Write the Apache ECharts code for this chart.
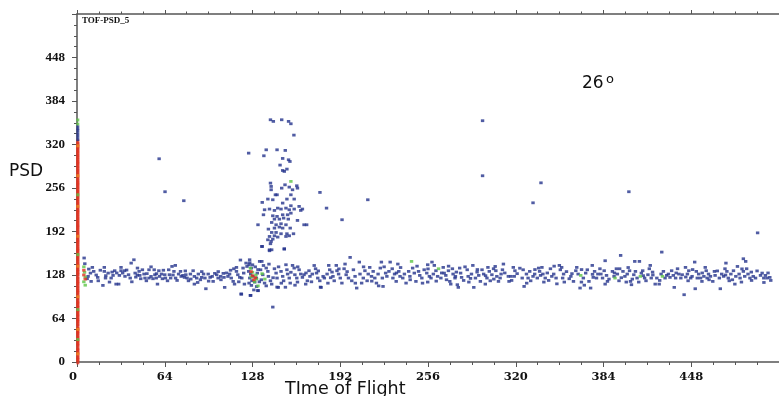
<!DOCTYPE html>
<html>
<head>
<meta charset="utf-8">
<script src="https://cdn.jsdelivr.net/npm/echarts@6/dist/echarts.min.js"></script>
<style>
html,body{margin:0;padding:0;background:#fff;}
#chart{width:779px;height:396px;}
</style>
</head>
<body>
<div id="chart"></div>
<script>
// Axis ticks (channel units)
const tofTicks = [0, 64, 128, 192, 256, 320, 384, 448];
const psdTicks = [0, 64, 128, 192, 256, 320, 384, 448];

// Main band of events around PSD ~128 [TOF, PSD]
const bandPts = [
[5.2,153],[5.7,144.6],[8.6,136.7],[11.2,139.2],[9.8,130.8],[12.2,133.3],[8.1,126],[7.4,122.5],[10.3,118.6],[15.1,124.5],
[15.5,119.5],[19.9,139.2],[19.9,133.3],[20.8,123.5],[18.9,112.7],[22.7,130.8],[24.9,123.5],[23.7,117.6],[25.6,132.3],[27.5,134.3],
[26.3,127.4],[28.5,114.6],[30.4,114.6],[32.1,139.2],[32.1,134.3],[30.9,127.4],[33.3,130.8],[34.7,134.3],[36.2,135.3],[37.6,128.4],
[38.8,123.5],[39.5,145.5],[41.5,150.4],[42.4,130.8],[42.9,124.9],[44.1,138.2],[45.3,133.3],[45.8,127.4],[46.5,122.5],[47.7,135.7],
[48.9,129.4],[49.6,123.5],[50.6,119.5],[52.5,135.7],[52.5,123.5],[54,125.9],[55.4,122.5],[56.3,135.7],[56.8,128.4],[57.8,123.5],
[58.7,114.6],[59.7,134.3],[60.2,125.9],[61.6,129.4],[62.3,122.5],[64,128.4],[64.5,123.5],[66,119.5],[66.9,135.7],[67.4,128.4],
[68.3,123.5],[69.3,140.6],[70.7,133.3],[71.7,142.1],[71.9,123.5],[74.1,129.4],[75.5,133.3],[76,125.9],[77.2,127.4],[78.4,124.5],
[79.4,128.4],[80.3,123.5],[81.3,119.5],[82.7,129.4],[84.7,134.3],[85.6,125.9],[85.6,114.6],[87.3,123.5],[88.5,129.4],[90,121],
[90.9,124.5],[92.3,129.4],[93.3,123.5],[94,107.8],[95.7,129.4],[97.1,124.5],[98.6,125.9],[99.3,118.6],[100.5,130.4],[101.9,128.4],
[102.9,123.5],[104.8,125.9],[106.7,130.4],[107.2,124.5],[107.7,109.8],[110.1,125.9],[111.3,129.4],[112.5,123.5],[113.9,118.6],[114.9,114.6],
[114.4,137.2],[116.3,139.2],[116.3,133.3],[117.3,128.4],[118.7,124.5],[119.2,150],[119.7,100],[120.2,123.5],[121.1,138.2],[121.6,130.8],
[122.1,114.6],[123.3,145.5],[124,140.6],
[14,128],[17,135],[21,127],[29,131],[35,126],[40,118],[44,128],[51,130],[54,140],[58,130],[63,135],[70,128],[73,120],[79,134],
[83,122],[88,117],[91,133],[96,119],[103,133],[105,121],[109,131],[112,135],[118,118],
[125.9,150.4],[125.5,143.1],[127.1,138.2],[125.2,133.3],[126.7,129.4],[128.4,126],[126,123.5],[127.6,119.5],[125.5,116.1],[127.2,112.7],
[129.6,117.6],[130.8,123.5],[131.5,130.8],[133.2,148],[134.8,148],[133.9,135.7],[135.5,128.4],[134.4,121],[136.8,116.1],[132,104.9],
[138,138.2],[139.2,133.3],[139.6,126],[141.1,119.5],[142,114.6],[144,137.2],[145.2,130.8],[145.9,123.5],[146.8,109.8],[148.8,133.3],
[150,126],[150.7,119.5],[152.4,143.1],[153.1,135.7],[153.6,129.4],[154.8,123.5],[155.5,116.1],[157.2,142.1],[158.4,138.2],[158.9,128.4],
[160.3,123.5],[160.8,117.6],[162,135.7],[163.2,129.4],[164.4,124.5],[165.6,128.4],[166.8,114.6],[168,119.5],[169.2,134.3],[169.9,126],
[171.6,129.4],[174,137.2],[174.7,130.8],[175.6,123.5],[177.1,119.5],[178,109.8],[179.5,126],[180.4,123.5],[182.4,129.4],[183.6,142.1],
[184.3,135.7],[186,132.3],[186.7,126],[187.6,119.5],[189.1,142.1],[189.6,134.3],[190.8,129.4],[192,123.5],[193.2,116.1],[194.8,137.2],
[195.5,144.1],[196.3,128.4],[198,123.5],[199.2,153.9],[200.4,119.5],[201.6,135.7],[202.8,126],[204,108.8],[205.9,147],[206.4,129.4],
[207.6,116.1],[208.8,123.5],[210,134.3],[211.6,119.5],[212.4,129.4],[213.5,139.2],[214.8,126],[216,133.3],[217.2,123.5],[218.4,116.1],
[219.6,129.4],[221.2,138.2],[222,147],[222.7,123.5],[223.2,111.2],[225.1,130.8],[226,126],[227.5,133.3],[228.4,147],[229.9,137.2],
[230.4,123.5],[231.6,129.4],[232.8,118.6],[234,144.1],[234.7,133.3],[235.6,126],[237.6,123.5],[238.8,129.4],[240,116.1],[241.9,133.3],
[242.8,126],[244.8,138.2],[246,130.8],[247.2,118.6],[249.1,133.3],[250,127.4],[251.5,123.5],[253.2,135.7],
[130,140],[132,136],[128,143],[126,146],[131,111],[133,118],[129,106],[136,142],[138,112],[140,144],[143,124],[147,140],[149,116],
[152,110],[156,132],[159,113],[161,140],[167,131],[171,118],[173,142],[176,134],[183,116],[185,124],[191,137],[197,133],[203,116],
[209,140],[215,119],[220,112],[224,140],[233,131],[236,139],[243,121],[248,141],[252,116],
[258.9,147],[260.6,142.1],[255.8,143.1],[255.1,130.8],[257,126],[258.2,123.5],[255.8,117.6],[259.9,129.4],[261.8,134.3],[263,126],
[265.4,123.5],[267.1,139.2],[267.8,130.8],[269,127.4],[269.5,121],[270.9,134.3],[271.9,118.6],[272.6,114.6],[273.8,137.2],[274.3,129.4],
[275.7,123.5],[276.7,132.3],[277.4,113.7],[278.1,109.8],[279.1,138.2],[279.8,130.8],[280.5,124.5],[284.6,135.7],[285.3,126],[285.8,117.6],
[287.7,129.4],[288.7,142.1],[289.4,109.8],[290.6,123.5],[291.8,132.3],[293,127.4],[294.2,118.6],[295.4,135.7],[296.6,129.4],[297.8,114.6],
[299,123.5],[299.7,139.2],[300.7,133.3],[301.4,119.5],[302.6,128.4],[303.8,137.2],[305,140.6],[305.5,134.3],[306.2,126],[307.4,118.6],
[308.6,123.5],[309.3,129.4],[311,144.1],[310.3,135.7],[314.6,126],[315.1,118.6],[316.5,126],[318.2,139.2],[318.9,126],[319.4,134.3],
[324.7,123.5],[325.4,135.7],[326.1,111.2],[327.8,129.4],[329,123.5],[330.2,133.3],[330.9,119.5],[332.6,126],[333.8,129.4],[335.7,123.5],
[336.7,138.2],[337.4,133.3],[338.1,127.4],[339.1,139.2],[339.8,129.4],[340.5,117.6],[341.5,123.5],[345.3,137.2],[346.3,126],[347.7,129.4],
[349.4,123.5],[351.8,142.1],[352.5,135.7],[353.5,139.2],[354.2,123.5],[354.9,129.4],[355.4,117.6],[359,122.5],[360.2,126],[362.1,118.6],
[363.8,134.3],[364.5,139.2],[365.5,129.4],[367.9,117.6],[366.9,108.8],[369.3,123.5],[371,130.8],[372.2,135.7],[373.4,118.6],[374.6,108.8],
[375.8,142.1],[376.5,124.5],[377.5,133.3],[378.9,123.5],[379.9,129.4],
[256,137],[262,119],[266,131],[271,141],[276,126],[282,120],[283,140],[287,123],[292,136],[298,127],[304,122],[312,131],[317,120],
[321,130],[323,138],[328,116],[334,136],[343,131],[344,120],[348,141],[350,115],[357,133],[361,130],[368,136],[370,113],[376,129],
[385.2,149],[406.8,148],[410.2,148],[450.5,147],[486,151.9],[487.7,148],[473.3,145.5],
[381.4,137.2],[382.1,129.4],[383.3,123.5],[384.5,134.3],[386.2,127.4],[386.9,118.6],[385.2,114.6],[390.5,133.3],[391.7,126],[393.4,137.2],
[394.1,129.4],[395.3,119.5],[395.8,137.2],[398.2,133.3],[399.6,126],[400.6,117.6],[401.3,129.4],[403,134.3],[403.7,118.6],[404.4,113.7],
[406.1,128.4],[407.3,133.3],[408.5,123.5],[409.7,117.6],[411.6,130.8],[412.6,134.3],[414,123.5],[415,119.5],[416.4,128.4],[417.4,137.2],
[418.1,142.1],[418.8,123.5],[419.8,132.3],[421.7,114.6],[422.9,123.5],[424.6,114.6],[426,129.4],[427.7,133.3],[428.9,123.5],[430.1,127.4],
[431.3,129.4],[432.5,124.5],[433.7,134.3],[434.9,127.4],[435.6,109.8],[436.6,123.5],[438,137.2],[439,129.4],[440.4,123.5],[441.4,128.4],
[442.8,99],[443.8,139.2],[445.2,129.4],[445.7,119.5],[446.2,134.3],[447.6,123.5],[448.6,126],[450.9,107.8],[451.7,133.3],[452.4,123.5],
[453.4,129.4],[454.8,123.5],[455.8,118.6],[457.2,126],[458.2,139.2],[458.9,134.3],[459.6,123.5],[460.6,129.4],[462,126],[463.7,118.6],
[464.9,133.3],[465.4,127.4],[468.5,123.5],[469.2,107.8],[470.2,129.4],[471.6,126],[472.6,137.2],[474,133.3],[475,123.5],[475.7,119.5],
[476.9,129.4],[478.8,134.3],[479.8,114.6],[480.5,126],[481.7,140.6],[482.9,129.4],[483.6,123.5],[484.6,117.6],[486,133.3],[487,126],
[488.4,137.2],[489.4,129.4],[490.8,123.5],[491.8,132.3],[493.2,126],[494.9,123.5],[498.5,127.4],[499.7,130.8],[500.9,123.5],[502.1,127.4],
[503.3,123.5],[505.3,124.5],
[388,122],[392,131],[397,124],[402,139],[405,122],[413,127],[420,128],[425,120],[437,131],[444,125],[449,136],[456,131],[461,121],
[467,134],[473,128],[478,121],[485,137],[492,120],[496,134],[501,117],[504,131],[506,120]
];

// Vertical plume of events rising above the band near TOF ~145
const spikePts = [
[141.1,356.4],[143.2,354],[149.3,356.4],[154.3,354],[156,350.5],[158.2,333.8],[125.2,307.3],[138,312.2],[136.3,303.4],[145.9,312.2],
[151.9,311.3],[150,299.5],[154.3,297.5],[155.3,295],[148.1,289.7],[153.1,283.8],[150,281.8],[151.2,280.4],[141.1,263.2],[151.7,260.7],
[141.6,258.3],[154.8,257.3],[160.3,259.3],[157.2,253.4],[149.3,255.8],[160.8,255.8],[141.6,253.4],[144.7,246],[145.9,246],[156,246],
[153.1,239.7],[158.4,239.7],[135.1,234.8],[139.2,239.7],[142.8,238.7],[150,233.8],[156,229.9],[162,228.9],[136.8,224],[140.4,225],
[144,223],[146.4,226.4],[148.8,225],[152.4,226.4],[154.8,224],[158.4,225],[163.2,223],[164.4,225],[136,216.6],[142.8,215.1],
[145.9,214.2],[150,216.6],[153.6,216.6],[156,219],[144,210.2],[147.6,210.2],[150.7,211.7],[154.1,210.2],[160.8,208.3],[132,201.9],
[142,205.3],[145.2,201.9],[148.8,203.4],[152.4,201.9],[165.6,201.9],[167.5,201.9],[139.6,195.5],[144,197],[147.6,198.5],[150,197],
[155.5,197],[142,190.6],[145.2,190.6],[148.8,188.7],[153.1,188.7],[157.9,188.7],[140.4,184.7],[144,185.7],[146.4,183.8],[152.4,184.7],
[154.8,185.7],[139.2,179.8],[142.8,180.8],[135.1,170],[141.1,174],[141.6,177.4],[140.4,165.1],[151.2,166.1],[134.8,170],[140.4,163.7],
[142,165.1],[151.2,166.6]
];

// Isolated events away from the band
const strayPts = [
[59.9,299],[64.2,250.5],[77.9,237.3],[295.8,355],[295.8,274],[338.4,263.6],[332.6,234.2],[212.1,238.7],[193.3,209.3],[182,226.4],
[177.2,249.5],[402.5,250.5],[496.4,190],[426.5,161.7],[396.5,156.8],[119.9,99.9],[126.4,98],[142.8,80.8],[132,105.3],[145.9,110.2],
[177.6,110.2],[126.7,98]
];

// Higher-count cells (green / red)
const greenPts = [
[5,140],[5.5,132],[6,125],[5,118],[6,113],[127,125],[128,132],[129.5,118],[130.5,128],[131,122],[126.5,138],[135,130],[137,122],
[156,265.7],[244,148],[263.7,137.2],[367.4,127.4],[392.4,123.5],[410.9,126],[427,126],[132,112]
];
const redPts = [
[5,128],[6,122],[5,135],[128,127],[129,121],[127,133],[130,124]
];

// Events stacked at TOF 0 (PSD values)
const edgeRedPsd = [1,5,9,14,17,22,27,30,35,39,44,47,52,57,61,65,70,73,78,83,86,91,95,100,104,108,113,117,121,126,131,134,139,143,147,
152,156,161,165,169,174,178,182,187,191,196,200,204,209,213,218,222,226,231,235,240,244,249,253,258,262,266,271,275,280,284,289,293,
297,302,306,311,315,319,323];
const edgeOrangePsd = [12,48,96,141,185,229,274,318];
const edgeGreenPsd = [33,77,158,246,356,350];
const edgeBluePsd = [328,334,340,345];

const BLUE = '#24338c';
const GREEN = '#5cc546';
const RED = '#e2321f';
const ORANGE = '#ef8a1e';

function scatter(data, color, size) {
  return {
    type: 'scatter',
    data: data,
    symbol: 'rect',
    symbolSize: size || [3.4, 2.8],
    itemStyle: { color: color },
    silent: true,
    animation: false
  };
}
const atZero = arr => arr.map(v => [0.6, v]);

const axisLineStyle = { color: '#555', width: 1.5 };
const tickStyle = { color: '#555', width: 1 };

const chart = echarts.init(document.getElementById('chart'), null, { renderer: 'canvas' });
chart.setOption({
  backgroundColor: '#fff',
  animation: false,
  grid: { left: 77, top: 14, right: -7, bottom: 34, containLabel: false },
  xAxis: [
    {
      type: 'value', min: 0, max: 512, interval: 64, position: 'bottom',
      axisLine: { show: true, onZero: false, lineStyle: axisLineStyle },
      axisTick: { show: true, inside: false, length: 5, lineStyle: tickStyle },
      minorTick: { show: true, splitNumber: 4, length: 3, lineStyle: tickStyle },
      splitLine: { show: false },
      axisLabel: {
        margin: 9, color: '#111', fontFamily: 'DejaVu Serif', fontWeight: 'bold', fontSize: 11.5,
        showMaxLabel: false, alignMinLabel: 'right',
        formatter: v => tofTicks.includes(v) ? String(v) : ''
      }
    },
    {
      type: 'value', min: 0, max: 512, interval: 64, position: 'top',
      axisLine: { show: true, onZero: false, lineStyle: axisLineStyle },
      axisTick: { show: true, inside: false, length: 4, lineStyle: tickStyle },
      minorTick: { show: true, splitNumber: 4, length: 2.5, lineStyle: tickStyle },
      splitLine: { show: false },
      axisLabel: { show: false }
    }
  ],
  yAxis: [
    {
      type: 'value', min: 0, max: 512, interval: 64, position: 'left',
      axisLine: { show: true, onZero: false, lineStyle: axisLineStyle },
      axisTick: { show: true, inside: false, length: 5, lineStyle: tickStyle },
      minorTick: { show: true, splitNumber: 4, length: 3, lineStyle: tickStyle },
      splitLine: { show: false },
      axisLabel: {
        margin: 12, color: '#111', fontFamily: 'Liberation Serif', fontWeight: 'bold', fontSize: 13,
        showMaxLabel: false,
        formatter: v => psdTicks.includes(v) ? String(v) : ''
      }
    }
  ],
  series: [
    scatter(atZero(edgeRedPsd), RED, [3, 6]),
    scatter(atZero(edgeOrangePsd), ORANGE, [3, 3]),
    scatter(atZero(edgeGreenPsd), GREEN, [3, 3]),
    scatter(atZero(edgeBluePsd), BLUE, [3, 4]),
    scatter(bandPts, BLUE),
    scatter(spikePts, BLUE),
    scatter(strayPts, BLUE),
    scatter(greenPts, GREEN),
    scatter(redPts, RED)
  ],
  graphic: [
    { type: 'text', left: 82, top: 16, style: { text: 'TOF-PSD_5', fontFamily: 'Liberation Serif', fontWeight: 'bold', fontSize: 9, fill: '#111' } },
    { type: 'text', left: 9, top: 163, style: { text: 'PSD', fontFamily: 'DejaVu Sans', fontSize: 17, fill: '#111' } },
    { type: 'text', left: 285, top: 380, style: { text: 'TIme of Flight', fontFamily: 'DejaVu Sans', fontSize: 17.5, fill: '#111' } },
    { type: 'text', left: 582, top: 75, style: { text: '26', fontFamily: 'DejaVu Sans', fontSize: 17, fill: '#111' } },
    { type: 'text', left: 606, top: 73, style: { text: 'o', fontFamily: 'DejaVu Sans', fontSize: 13, fill: '#111' } }
  ]
});
</script>
</body>
</html>
